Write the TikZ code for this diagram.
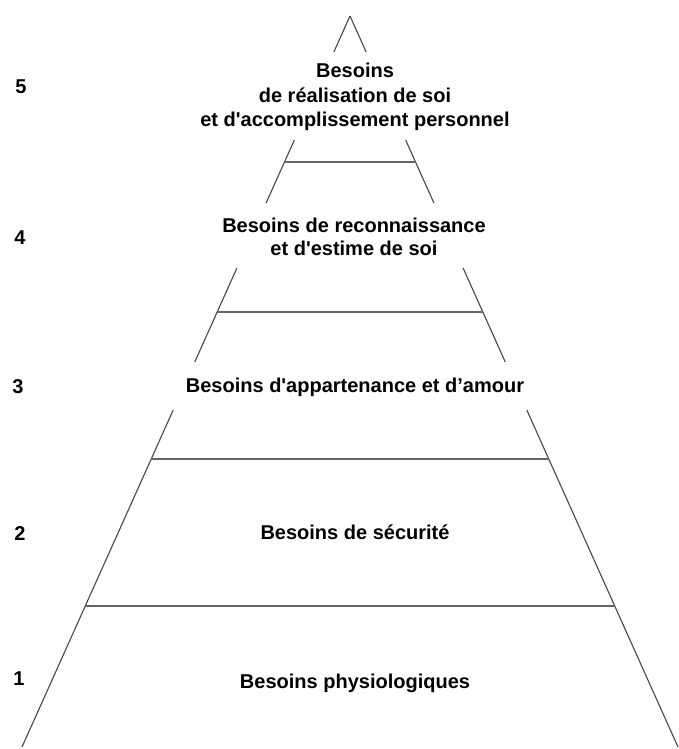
\documentclass[tikz,border=0pt]{standalone}
\usepackage{fontspec}
\newfontfamily\lab{Liberation Sans}
\usetikzlibrary{calc}
\begin{document}
\begin{tikzpicture}[x=1pt,y=-1pt,
  side/.style={line width=1.1pt,draw=black!72},
  tier/.style={line width=1.3pt,draw=black!60},
  label/.style={font=\lab\bfseries\fontsize{20}{24.5}\selectfont,align=center,anchor=base,inner sep=0pt},
  num/.style={font=\lab\bfseries\fontsize{20}{24}\selectfont,anchor=base,inner sep=0pt}]
\useasboundingbox[fill=white] (0,0) rectangle (678,749);
\coordinate (apex) at (350,16);
\coordinate (bl) at (22,747);
\coordinate (br) at (678,747);
% side segments (broken where text sits)
\foreach \a/\b in {0/0.04925, 0.16963/0.25581, 0.34473/0.47332, 0.53899/1} {
  \draw[side] ($(apex)!\a!(bl)$) -- ($(apex)!\b!(bl)$);
  \draw[side] ($(apex)!\a!(br)$) -- ($(apex)!\b!(br)$);
}
% tier separators
\foreach \t in {0.19973, 0.40492, 0.60602, 0.80711} {
  \draw[tier] ($(apex)!\t!(bl)$) -- ($(apex)!\t!(br)$);
}
% labels (base anchor = baseline of the last line)
\node[label] (l5) at (355,127) {Besoins\\de réalisation de soi\\et d'accomplissement personnel};
\node[label,font=\lab\bfseries\fontsize{20}{23}\selectfont] (l4) at (354,255) {Besoins de reconnaissance\\et d'estime de soi};
\node[label] (l3) at (355,392) {Besoins d'appartenance et d’amour};
\node[label] (l2) at (355,539) {Besoins de sécurité};
\node[label] (l1) at (355,688) {Besoins physiologiques};
% numbers
\node[num] (n5) at (21,94) {5};
\node[num] (n4) at (20,244) {4};
\node[num] (n3) at (18,393) {3};
\node[num] (n2) at (20,540) {2};
\node[num] (n1) at (19,685) {1};
\end{tikzpicture}
\end{document}
